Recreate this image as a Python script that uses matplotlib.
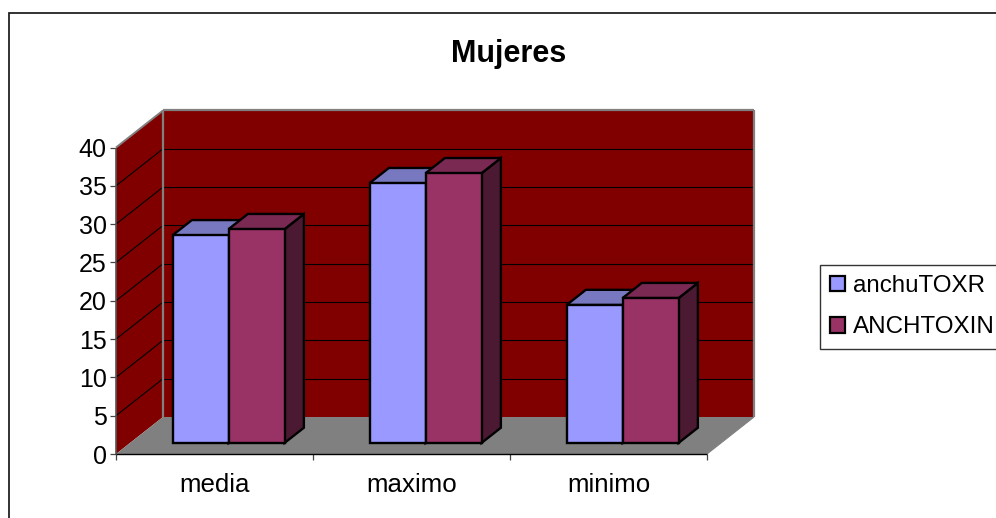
import numpy as np
import matplotlib
matplotlib.use("Agg")
import matplotlib.pyplot as plt
from matplotlib.patches import Patch, Polygon, Rectangle

plt.rcParams["font.family"] = ["Liberation Sans", "DejaVu Sans"]

categories = ["media", "maximo", "minimo"]
anchu_toxr = [27.1, 33.9, 18.0]
anch_toxin = [27.9, 35.2, 18.9]
y_ticks = [0, 5, 10, 15, 20, 25, 30, 35, 40]

W, H = 996, 518
fig = plt.figure(figsize=(W / 100, H / 100), dpi=100)
ax = fig.add_axes([116 / W, (H - 454) / H, 591 / W, 306.5 / H])
ax.set_xlim(0, 3)
ax.set_ylim(0, 40)
for s in ax.spines.values():
    s.set_visible(False)
ax.patch.set_visible(False)

# depth of the fake 3d box, in data units
DX = 47 / 591 * 3
DY = 37 / 306.5 * 40


def shift(x, y, d):
    return (x + d * DX, y + d * DY)


def poly(pts, fc, ec="none", lw=0, z=1):
    ax.add_patch(Polygon(pts, closed=True, fc=fc, ec=ec, lw=lw, zorder=z,
                         clip_on=False, joinstyle="miter"))


def seg(a, b, color, lw, z=2):
    ax.plot([a[0], b[0]], [a[1], b[1]], color=color, lw=lw, zorder=z,
            clip_on=False, solid_capstyle="butt")


wall = "#800000"
edge = "#808080"

# walls and floor
poly([shift(0, 0, 0), shift(0, 0, 1), shift(0, 40, 1), shift(0, 40, 0)], wall)
poly([shift(0, 0, 1), shift(3, 0, 1), shift(3, 40, 1), shift(0, 40, 1)], wall)
poly([shift(0, 0, 0), shift(3, 0, 0), shift(3, 0, 1), shift(0, 0, 1)], edge)

for v in y_ticks[1:-1]:
    seg(shift(0, v, 0), shift(0, v, 1), "black", 0.8)
    seg(shift(0, v, 1), shift(3, v, 1), "black", 0.8)

seg(shift(0, 40, 0), shift(0, 40, 1), edge, 1.4)
seg(shift(0, 40, 1), shift(3, 40, 1), edge, 1.6)
seg(shift(0, 0, 1), shift(0, 40, 1), edge, 1.6)
seg(shift(3, 0, 1), shift(3, 40, 1), edge, 1.6)
seg(shift(3, 0, 0), shift(3, 0, 1), edge, 0.8)
seg((0, 0), (0, 40), "#555555", 1.2)
seg((0, 0), (3, 0), "black", 1.0)

# bars: near face, top and right side
BAR_W = 56 / 197
D0 = 0.30
D1 = 0.71


def bar3d(x0, v, front, top, side, z):
    x1 = x0 + BAR_W
    a, b = shift(x0, 0, D0), shift(x1, 0, D0)
    c, d = shift(x1, v, D0), shift(x0, v, D0)
    poly([b, shift(x1, 0, D1), shift(x1, v, D1), c], side, "black", 1.7, z)
    poly([d, c, shift(x1, v, D1), shift(x0, v, D1)], top, "black", 1.7, z)
    poly([a, b, c, d], front, "black", 1.7, z)


for i in range(len(categories)):
    c = i + 0.5
    bar3d(c - BAR_W, anchu_toxr[i], "#9999FF", "#7878C0", "#4C4C80", 5 + i)
    bar3d(c, anch_toxin[i], "#993366", "#7A2952", "#4C1933", 5.5 + i)

ax.set_yticks(y_ticks)
ax.set_xticks([0, 1, 2, 3])
ax.set_xticklabels([])
ax.set_xticks(np.arange(len(categories)) + 0.5, minor=True)
ax.set_xticklabels(categories, minor=True, fontsize=18.6)
ax.tick_params(axis="y", length=4.3, width=0.9, color="#444444", labelsize=18, pad=2.5)
ax.tick_params(axis="x", which="major", length=4.3, width=0.9, color="#444444")
ax.tick_params(axis="x", which="minor", length=0, pad=13.5)

fig.text(509 / W, 1 - 54 / H, "Mujeres", ha="center", va="center",
         fontsize=22, fontweight="bold")

# chart frame, runs off the right and bottom edges
fig.add_artist(Rectangle((9 / W, -4 / H), (W + 20) / W, (H - 13 + 4) / H,
                         transform=fig.transFigure, fc="none", ec="#222222", lw=1.3))

handles = [Patch(fc="#9999FF", ec="black", lw=1.6, label="anchuTOXR"),
           Patch(fc="#993366", ec="black", lw=1.6, label="ANCHTOXIN")]
fig.legend(handles=handles, loc="upper left",
           bbox_to_anchor=(820 / W, 1 - 265 / H), frameon=True, fancybox=False,
           edgecolor="#333333", framealpha=1, fontsize=17.4, borderaxespad=0,
           handlelength=0.62, handleheight=0.62, handletextpad=0.32,
           borderpad=0.42, labelspacing=0.8)

fig.savefig("out.png", dpi=100)
